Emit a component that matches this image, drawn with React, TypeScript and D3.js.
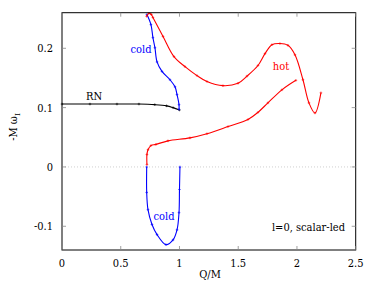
import React, { useEffect, useRef } from 'react';
import * as d3 from 'd3';

// -M omega_I vs Q/M
const rnQ = [0, 0.238, 0.468, 0.655, 0.79, 0.89, 0.945, 1.0];
const rnW = [0.106, 0.106, 0.106, 0.106, 0.105, 0.103, 0.1, 0.096];

const coldUpQ = [0.723, 0.757, 0.774, 0.791, 0.809, 0.851, 0.919, 0.962, 0.979, 0.996, 0.996];
const coldUpW = [0.257, 0.24, 0.218, 0.201, 0.177, 0.161, 0.147, 0.135, 0.122, 0.105, 0.097];

const coldLowQ = [0.721, 0.721, 0.732, 0.766, 0.809, 0.885, 0.945, 0.979, 0.996, 1.0, 1.004];
const coldLowW = [0.0, -0.043, -0.072, -0.097, -0.114, -0.131, -0.123, -0.106, -0.077, -0.038, 0.0];

const hotUpQ = [0.72, 0.74, 0.76, 0.774, 0.86, 0.953, 1.047, 1.149, 1.234, 1.37, 1.498, 1.574, 1.668, 1.728, 1.787, 1.855, 1.923, 1.983, 2.051, 2.102, 2.153, 2.204];
const hotUpW = [0.254, 0.259, 0.257, 0.252, 0.22, 0.186, 0.169, 0.154, 0.144, 0.137, 0.141, 0.153, 0.171, 0.191, 0.206, 0.208, 0.205, 0.189, 0.147, 0.108, 0.091, 0.125];

const hotLowQ = [0.723, 0.723, 0.732, 0.757, 0.8, 0.902, 1.089, 1.234, 1.413, 1.583, 1.668, 1.753, 1.872, 1.991];
const hotLowW = [0.004, 0.021, 0.029, 0.036, 0.038, 0.044, 0.049, 0.056, 0.068, 0.08, 0.092, 0.108, 0.13, 0.146];

const xTicks = [0, 0.5, 1, 1.5, 2, 2.5];
const yTicks = [-0.1, 0, 0.1, 0.2];

const W = 378, H = 291;
const m = { left: 62, right: 22.3, top: 12.7, bottom: 41 };

export default function App() {
  const ref = useRef<SVGSVGElement>(null);

  useEffect(() => {
    const svg = d3.select(ref.current);
    svg.selectAll('*').remove();
    const x = d3.scaleLinear().domain([0, 2.5]).range([m.left, W - m.right]);
    const y = d3.scaleLinear().domain([-0.14, 0.26]).range([H - m.bottom, m.top]);

    // zero line
    svg.append('line')
      .attr('x1', x(0)).attr('x2', x(2.5)).attr('y1', y(0)).attr('y2', y(0))
      .attr('stroke', '#bbb').attr('stroke-width', 0.7).attr('stroke-dasharray', '1,2');

    const series: [number[], number[], string][] = [
      [rnQ, rnW, '#000'],
      [coldUpQ, coldUpW, '#0000ff'],
      [coldLowQ, coldLowW, '#0000ff'],
      [hotUpQ, hotUpW, '#ff0000'],
      [hotLowQ, hotLowW, '#ff0000'],
    ];
    const line = d3.line<[number, number]>()
      .x(d => x(d[0])).y(d => y(d[1]))
      .curve(d3.curveCatmullRom.alpha(0.5));
    series.forEach(([qs, ws, c]) => {
      const pts = qs.map((q, i) => [q, ws[i]] as [number, number]);
      svg.append('path').datum(pts).attr('d', line)
        .attr('fill', 'none').attr('stroke', c).attr('stroke-width', 1.1);
      svg.append('g').selectAll('path').data(pts).join('path')
        .attr('d', d => `M${x(d[0]) - 1.3},${y(d[1])}h2.6M${x(d[0])},${y(d[1]) - 1.3}v2.6`)
        .attr('stroke', c).attr('stroke-width', 0.6);
    });

    // frame
    svg.append('rect')
      .attr('x', x(0)).attr('y', y(0.26))
      .attr('width', x(2.5) - x(0)).attr('height', y(-0.14) - y(0.26))
      .attr('fill', 'none').attr('stroke', '#000').attr('stroke-width', 1);

    // ticks
    const tk = svg.append('g').attr('stroke', '#888').attr('stroke-width', 0.8);
    xTicks.forEach(t => {
      tk.append('line').attr('x1', x(t)).attr('x2', x(t)).attr('y1', y(-0.14)).attr('y2', y(-0.14) - 4);
      tk.append('line').attr('x1', x(t)).attr('x2', x(t)).attr('y1', y(0.26)).attr('y2', y(0.26) + 4);
    });
    yTicks.forEach(t => {
      tk.append('line').attr('x1', x(0)).attr('x2', x(0) + 4).attr('y1', y(t)).attr('y2', y(t));
      tk.append('line').attr('x1', x(2.5)).attr('x2', x(2.5) - 4).attr('y1', y(t)).attr('y2', y(t));
    });

    const txt = svg.append('g')
      .style('font-family', '"DejaVu Serif Condensed", "DejaVu Serif", serif')
      .style('font-stretch', 'condensed')
      .style('font-size', '11px');
    xTicks.forEach(t => {
      txt.append('text').attr('x', x(t)).attr('y', H - m.bottom + 17)
        .attr('text-anchor', 'middle').text(String(t));
    });
    yTicks.forEach(t => {
      txt.append('text').attr('x', x(0) - 9).attr('y', y(t) + 4)
        .attr('text-anchor', 'end').text(String(t));
    });

    txt.append('text').attr('x', 210).attr('y', 278).attr('text-anchor', 'middle').text('Q/M');
    const yl = txt.append('text').attr('transform', 'translate(17,127) rotate(-90)')
      .attr('text-anchor', 'middle');
    yl.append('tspan').text('-M ω');
    yl.append('tspan').style('font-size', '8px').attr('dy', 3).text('I');

    txt.append('text').attr('x', 94).attr('y', 100).attr('text-anchor', 'middle').text('RN');
    txt.append('text').attr('x', 141).attr('y', 53).attr('text-anchor', 'middle').attr('fill', '#0000ff').text('cold');
    txt.append('text').attr('x', 164).attr('y', 220).attr('text-anchor', 'middle').attr('fill', '#0000ff').text('cold');
    txt.append('text').attr('x', 281).attr('y', 70).attr('text-anchor', 'middle').attr('fill', '#ff0000').text('hot');
    txt.append('text').attr('x', 345).attr('y', 231).attr('text-anchor', 'end').text('l=0, scalar-led');
  }, []);

  return (
    <svg ref={ref} width={W} height={H}
      style={{ position: 'absolute', left: 0, top: 0, background: '#fff' }} />
  );
}
